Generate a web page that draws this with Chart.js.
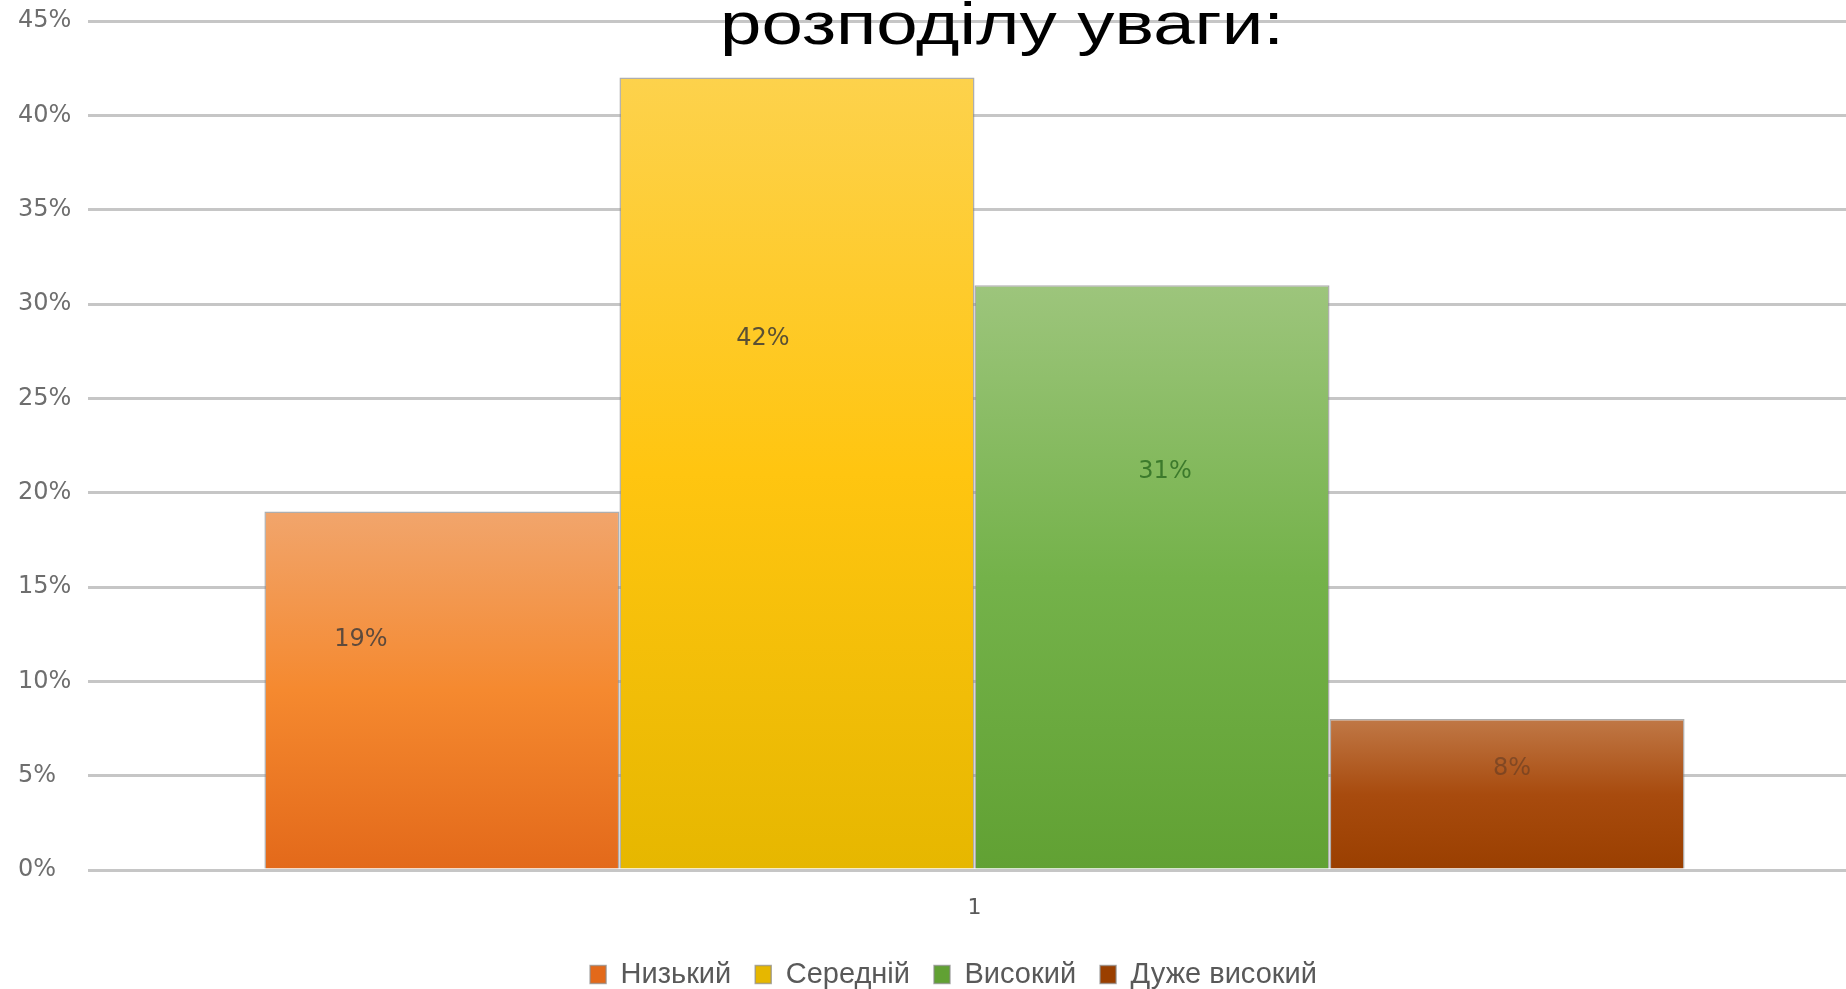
<!DOCTYPE html>
<html><head><meta charset="utf-8">
<script src="https://cdn.jsdelivr.net/npm/chart.js@4.4.1/dist/chart.umd.min.js"></script>
<style>
html,body{margin:0;padding:0;background:#fff;overflow:hidden;}
#wrap{position:relative;width:1846px;height:989px;overflow:hidden;}
#title{position:absolute;left:720px;top:-6px;font-family:"Liberation Sans",Arial,sans-serif;font-size:60px;line-height:60px;color:#000;white-space:nowrap;transform-origin:0 0;transform:scaleX(1.24);z-index:2;}
canvas{position:absolute;left:0;top:0;}
</style></head><body>
<div id="wrap"><canvas id="c" width="1861" height="989"></canvas><div id="title"></div></div>
<script>
// ---- data ----
const titleText = 'розподілу уваги:';
const categories = ['1'];
const seriesNames = ['Низький', 'Середній', 'Високий', 'Дуже високий'];
const lowValues = [19];
const mediumValues = [42];
const highValues = [31];
const veryHighValues = [8];
const yMin = 0;
const yMax = 45;
const yStep = 5;
const tickSuffix = '%';

// ---- styles ----
const flatColors = ['#ed7d31', '#ffc000', '#70ad47', '#9e480e'];
const gradientStops = [
  ['#f1a56c', '#f5892f', '#e3691a'],
  ['#fdd24c', '#ffc510', '#e6b700'],
  ['#9dc57c', '#74b24a', '#61a133'],
  ['#c07846', '#a84b0e', '#9a3f00']
];
const labelStyle = [
  { dx: -81, frac: 0.64, color: '#5e4a3c' },
  { dx: -34, frac: 0.67, color: '#5a5034' },
  { dx: 13, frac: 0.68, color: '#3c7a2c' },
  { dx: 5, frac: 0.67, color: 'rgba(90,55,35,0.55)' }
];
const legendShift = 14;

document.getElementById('title').textContent = titleText;

function barGradient(i) {
  return (c) => {
    const chart = c.chart;
    if (!chart.chartArea || c.raw === undefined) return flatColors[i];
    const y = chart.scales.y;
    const top = y.getPixelForValue(c.raw);
    const bot = y.getPixelForValue(0);
    const g = chart.ctx.createLinearGradient(0, top, 0, bot);
    g.addColorStop(0, gradientStops[i][0]);
    g.addColorStop(0.5, gradientStops[i][1]);
    g.addColorStop(1, gradientStops[i][2]);
    return g;
  };
}

const allValues = [lowValues, mediumValues, highValues, veryHighValues];
const datasets = seriesNames.map((name, i) => ({
  label: name,
  data: allValues[i],
  backgroundColor: barGradient(i),
  borderColor: 'rgba(140,140,140,0.7)',
  borderWidth: 1.5,
  categoryPercentage: 0.801,
  barPercentage: 1.0
}));

const labelPlugin = {
  id: 'barLabels',
  afterLayout(chart) {
    if (chart.legend) {
      chart.legend.left += legendShift;
      chart.legend.right += legendShift;
    }
  },
  afterDatasetsDraw(chart) {
    const ctx = chart.ctx;
    chart.data.datasets.forEach((ds, i) => {
      const meta = chart.getDatasetMeta(i);
      meta.data.forEach((el, j) => {
        const p = el.getProps(['x', 'y', 'base'], true);
        const st = labelStyle[i];
        ctx.save();
        ctx.font = '24px "DejaVu Sans"';
        ctx.fillStyle = st.color;
        ctx.textAlign = 'center';
        ctx.textBaseline = 'middle';
        ctx.fillText(ds.data[j] + tickSuffix, p.x + st.dx, p.base + (p.y - p.base) * st.frac);
        ctx.restore();
      });
    });
  }
};

new Chart(document.getElementById('c'), {
  type: 'bar',
  data: { labels: categories, datasets },
  plugins: [labelPlugin],
  options: {
    responsive: false,
    animation: false,
    devicePixelRatio: 1,
    layout: { padding: { left: 18, top: 21, right: 0, bottom: -10 } },
    plugins: {
      tooltip: { enabled: false },
      title: { display: false },
      legend: {
        position: 'bottom',
        fullSize: true,
        labels: {
          boxWidth: 16,
          boxHeight: 18,
          padding: 24,
          color: '#595959',
          font: { family: '"Liberation Sans", Arial, sans-serif', size: 29, lineHeight: 1.2 }
        }
      }
    },
    scales: {
      x: {
        grid: { display: false },
        border: { display: false },
        ticks: { color: '#595959', padding: 17, font: { family: '"DejaVu Sans"', size: 22 } },
        afterFit: (s) => { s.height = 66; }
      },
      y: {
        min: yMin,
        max: yMax,
        grid: { color: '#c6c6c6', lineWidth: 3, drawTicks: false },
        border: { display: false },
        ticks: {
          stepSize: yStep,
          crossAlign: 'far',
          padding: 0,
          color: '#6e6e6e',
          font: { family: '"DejaVu Sans"', size: 24 },
          callback: (v) => v + tickSuffix
        },
        afterFit: (s) => { s.width = 70; }
      }
    }
  }
});
</script>
</body></html>
